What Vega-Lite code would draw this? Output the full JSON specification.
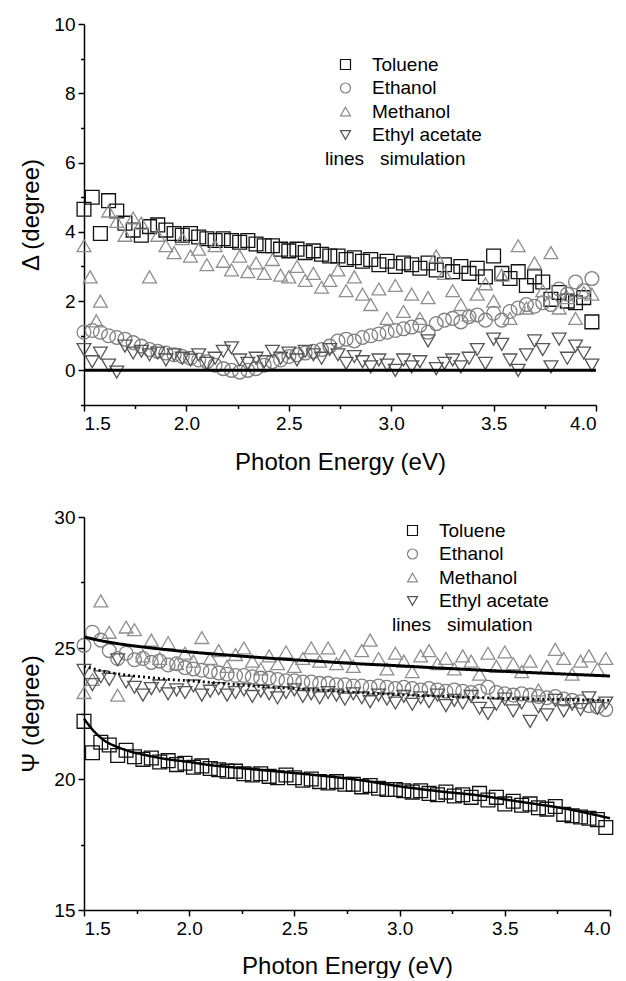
{
"$schema": "https://vega.github.io/schema/vega-lite/v6.json",
"background": "white",
"padding": {"left": 19, "top": 15, "right": 0, "bottom": 0},
"spacing": 34,
"config": {
  "view": {"stroke": null},
  "font": "Liberation Sans",
  "axis": {"domainColor": "#000", "domainWidth": 1.5, "tickColor": "#000", "tickWidth": 1.5, "tickSize": 6, "labelFontSize": 19, "labelColor": "#000", "labelFont": "Liberation Sans", "labelPadding": 3, "labelOverlap": false, "titleFont": "Liberation Sans", "titleFontSize": 24, "titleFontWeight": "normal", "titleColor": "#000", "grid": false},
  "legend": {"symbolSize": 100, "symbolStrokeWidth": 1.2, "labelFontSize": 19, "labelFont": "Liberation Sans", "labelColor": "#000", "titleFont": "Liberation Sans", "titleFontSize": 19, "titleFontWeight": "normal", "titleColor": "#000", "rowPadding": 3.5, "padding": 0, "titleLimit": 400, "labelLimit": 300, "titleOrient": "bottom", "titleAnchor": "start", "titlePadding": 5, "symbolOffset": 11, "labelOffset": 17}
},
"resolve": {"scale": {"x": "independent", "y": "independent", "shape": "independent", "color": "independent"}, "legend": {"shape": "independent", "color": "independent"}},
"datasets": {
"deltaSim": [{"x": 1.5, "y": 0}, {"x": 4.0, "y": 0}],
"psiSim": [
{"sim":"m","x":1.5,"y":25.42},{"sim":"m","x":1.6,"y":25.25},{"sim":"m","x":1.7,"y":25.12},{"sim":"m","x":1.8,"y":25.02},{"sim":"m","x":1.9,"y":24.93},{"sim":"m","x":2.0,"y":24.85},{"sim":"m","x":2.2,"y":24.72},{"sim":"m","x":2.4,"y":24.6},{"sim":"m","x":2.6,"y":24.5},{"sim":"m","x":2.8,"y":24.4},{"sim":"m","x":3.0,"y":24.32},{"sim":"m","x":3.2,"y":24.23},{"sim":"m","x":3.4,"y":24.15},{"sim":"m","x":3.6,"y":24.07},{"sim":"m","x":3.8,"y":24.0},{"sim":"m","x":4.0,"y":23.93},
{"sim":"e","x":1.5,"y":24.3},{"sim":"e","x":1.6,"y":24.1},{"sim":"e","x":1.7,"y":23.97},{"sim":"e","x":1.8,"y":23.88},{"sim":"e","x":1.9,"y":23.8},{"sim":"e","x":2.0,"y":23.75},{"sim":"e","x":2.2,"y":23.62},{"sim":"e","x":2.4,"y":23.5},{"sim":"e","x":2.6,"y":23.4},{"sim":"e","x":2.8,"y":23.3},{"sim":"e","x":3.0,"y":23.22},{"sim":"e","x":3.2,"y":23.16},{"sim":"e","x":3.4,"y":23.1},{"sim":"e","x":3.6,"y":23.06},{"sim":"e","x":3.8,"y":23.03},{"sim":"e","x":4.0,"y":23.0},
{"sim":"t","x":1.5,"y":22.3},{"sim":"t","x":1.55,"y":21.8},{"sim":"t","x":1.6,"y":21.45},{"sim":"t","x":1.65,"y":21.25},{"sim":"t","x":1.7,"y":21.1},{"sim":"t","x":1.8,"y":20.9},{"sim":"t","x":1.9,"y":20.75},{"sim":"t","x":2.0,"y":20.65},{"sim":"t","x":2.1,"y":20.53},{"sim":"t","x":2.2,"y":20.45},{"sim":"t","x":2.4,"y":20.3},{"sim":"t","x":2.6,"y":20.15},{"sim":"t","x":2.8,"y":19.97},{"sim":"t","x":3.0,"y":19.72},{"sim":"t","x":3.2,"y":19.52},{"sim":"t","x":3.4,"y":19.35},{"sim":"t","x":3.5,"y":19.22},{"sim":"t","x":3.6,"y":19.1},{"sim":"t","x":3.8,"y":18.85},{"sim":"t","x":4.0,"y":18.5}
],
"delta": [
{"s":"Toluene","x":1.50,"y":4.65},{"s":"Toluene","x":1.54,"y":5.0},{"s":"Toluene","x":1.58,"y":3.95},{"s":"Toluene","x":1.62,"y":4.9},{"s":"Toluene","x":1.66,"y":4.6},{"s":"Toluene","x":1.70,"y":4.25},{"s":"Toluene","x":1.74,"y":4.05},{"s":"Toluene","x":1.78,"y":3.9},{"s":"Toluene","x":1.82,"y":4.15},{"s":"Toluene","x":1.86,"y":4.2},{"s":"Toluene","x":1.90,"y":4.05},{"s":"Toluene","x":1.94,"y":3.95},{"s":"Toluene","x":1.98,"y":3.9},{"s":"Toluene","x":2.02,"y":3.95},{"s":"Toluene","x":2.06,"y":3.85},{"s":"Toluene","x":2.10,"y":3.8},{"s":"Toluene","x":2.14,"y":3.75},{"s":"Toluene","x":2.18,"y":3.8},{"s":"Toluene","x":2.22,"y":3.75},{"s":"Toluene","x":2.26,"y":3.7},{"s":"Toluene","x":2.30,"y":3.75},{"s":"Toluene","x":2.34,"y":3.65},{"s":"Toluene","x":2.38,"y":3.6},{"s":"Toluene","x":2.42,"y":3.6},{"s":"Toluene","x":2.46,"y":3.5},{"s":"Toluene","x":2.50,"y":3.45},{"s":"Toluene","x":2.54,"y":3.5},{"s":"Toluene","x":2.58,"y":3.4},{"s":"Toluene","x":2.62,"y":3.45},{"s":"Toluene","x":2.66,"y":3.35},{"s":"Toluene","x":2.70,"y":3.3},{"s":"Toluene","x":2.74,"y":3.3},{"s":"Toluene","x":2.78,"y":3.2},{"s":"Toluene","x":2.82,"y":3.25},{"s":"Toluene","x":2.86,"y":3.15},{"s":"Toluene","x":2.90,"y":3.2},{"s":"Toluene","x":2.94,"y":3.05},{"s":"Toluene","x":2.98,"y":3.15},{"s":"Toluene","x":3.02,"y":3.0},{"s":"Toluene","x":3.06,"y":3.1},{"s":"Toluene","x":3.10,"y":3.05},{"s":"Toluene","x":3.14,"y":2.95},{"s":"Toluene","x":3.18,"y":3.1},{"s":"Toluene","x":3.22,"y":2.9},{"s":"Toluene","x":3.26,"y":3.05},{"s":"Toluene","x":3.30,"y":2.85},{"s":"Toluene","x":3.34,"y":3.0},{"s":"Toluene","x":3.38,"y":2.8},{"s":"Toluene","x":3.42,"y":2.95},{"s":"Toluene","x":3.46,"y":2.7},{"s":"Toluene","x":3.50,"y":3.3},{"s":"Toluene","x":3.54,"y":2.8},{"s":"Toluene","x":3.58,"y":2.65},{"s":"Toluene","x":3.62,"y":2.85},{"s":"Toluene","x":3.66,"y":2.45},{"s":"Toluene","x":3.70,"y":2.7},{"s":"Toluene","x":3.74,"y":2.55},{"s":"Toluene","x":3.78,"y":2.05},{"s":"Toluene","x":3.82,"y":2.25},{"s":"Toluene","x":3.86,"y":2.0},{"s":"Toluene","x":3.90,"y":1.95},{"s":"Toluene","x":3.94,"y":2.1},{"s":"Toluene","x":3.98,"y":1.4},
{"s":"Ethanol","x":1.50,"y":1.1},{"s":"Ethanol","x":1.54,"y":1.15},{"s":"Ethanol","x":1.58,"y":1.1},{"s":"Ethanol","x":1.62,"y":1.0},{"s":"Ethanol","x":1.66,"y":0.95},{"s":"Ethanol","x":1.70,"y":0.9},{"s":"Ethanol","x":1.74,"y":0.8},{"s":"Ethanol","x":1.78,"y":0.7},{"s":"Ethanol","x":1.82,"y":0.6},{"s":"Ethanol","x":1.86,"y":0.55},{"s":"Ethanol","x":1.90,"y":0.5},{"s":"Ethanol","x":1.94,"y":0.45},{"s":"Ethanol","x":1.98,"y":0.4},{"s":"Ethanol","x":2.02,"y":0.35},{"s":"Ethanol","x":2.06,"y":0.3},{"s":"Ethanol","x":2.10,"y":0.25},{"s":"Ethanol","x":2.14,"y":0.15},{"s":"Ethanol","x":2.18,"y":0.05},{"s":"Ethanol","x":2.22,"y":0.0},{"s":"Ethanol","x":2.26,"y":-0.05},{"s":"Ethanol","x":2.30,"y":0.0},{"s":"Ethanol","x":2.34,"y":0.05},{"s":"Ethanol","x":2.38,"y":0.15},{"s":"Ethanol","x":2.42,"y":0.25},{"s":"Ethanol","x":2.46,"y":0.3},{"s":"Ethanol","x":2.50,"y":0.4},{"s":"Ethanol","x":2.54,"y":0.45},{"s":"Ethanol","x":2.58,"y":0.5},{"s":"Ethanol","x":2.62,"y":0.55},{"s":"Ethanol","x":2.66,"y":0.6},{"s":"Ethanol","x":2.70,"y":0.7},{"s":"Ethanol","x":2.74,"y":0.85},{"s":"Ethanol","x":2.78,"y":0.9},{"s":"Ethanol","x":2.82,"y":0.85},{"s":"Ethanol","x":2.86,"y":0.95},{"s":"Ethanol","x":2.90,"y":1.0},{"s":"Ethanol","x":2.94,"y":1.05},{"s":"Ethanol","x":2.98,"y":1.1},{"s":"Ethanol","x":3.02,"y":1.15},{"s":"Ethanol","x":3.06,"y":1.2},{"s":"Ethanol","x":3.10,"y":1.25},{"s":"Ethanol","x":3.14,"y":1.3},{"s":"Ethanol","x":3.18,"y":1.1},{"s":"Ethanol","x":3.22,"y":1.35},{"s":"Ethanol","x":3.26,"y":1.45},{"s":"Ethanol","x":3.30,"y":1.5},{"s":"Ethanol","x":3.34,"y":1.4},{"s":"Ethanol","x":3.38,"y":1.55},{"s":"Ethanol","x":3.42,"y":1.6},{"s":"Ethanol","x":3.46,"y":1.45},{"s":"Ethanol","x":3.50,"y":1.65},{"s":"Ethanol","x":3.54,"y":1.45},{"s":"Ethanol","x":3.58,"y":1.7},{"s":"Ethanol","x":3.62,"y":1.8},{"s":"Ethanol","x":3.66,"y":1.9},{"s":"Ethanol","x":3.70,"y":1.85},{"s":"Ethanol","x":3.74,"y":1.95},{"s":"Ethanol","x":3.78,"y":1.9},{"s":"Ethanol","x":3.82,"y":2.35},{"s":"Ethanol","x":3.86,"y":2.2},{"s":"Ethanol","x":3.90,"y":2.55},{"s":"Ethanol","x":3.94,"y":2.3},{"s":"Ethanol","x":3.98,"y":2.65},
{"s":"Methanol","x":1.50,"y":3.6},{"s":"Methanol","x":1.53,"y":2.7},{"s":"Methanol","x":1.56,"y":1.43},{"s":"Methanol","x":1.58,"y":2.0},{"s":"Methanol","x":1.62,"y":4.6},{"s":"Methanol","x":1.66,"y":4.3},{"s":"Methanol","x":1.70,"y":3.9},{"s":"Methanol","x":1.74,"y":4.4},{"s":"Methanol","x":1.78,"y":4.25},{"s":"Methanol","x":1.82,"y":2.7},{"s":"Methanol","x":1.86,"y":3.9},{"s":"Methanol","x":1.90,"y":3.6},{"s":"Methanol","x":1.94,"y":3.4},{"s":"Methanol","x":1.98,"y":3.8},{"s":"Methanol","x":2.02,"y":3.3},{"s":"Methanol","x":2.06,"y":3.5},{"s":"Methanol","x":2.10,"y":3.05},{"s":"Methanol","x":2.14,"y":3.6},{"s":"Methanol","x":2.18,"y":3.15},{"s":"Methanol","x":2.22,"y":2.9},{"s":"Methanol","x":2.26,"y":3.3},{"s":"Methanol","x":2.30,"y":2.85},{"s":"Methanol","x":2.34,"y":3.1},{"s":"Methanol","x":2.38,"y":2.8},{"s":"Methanol","x":2.42,"y":3.2},{"s":"Methanol","x":2.46,"y":2.75},{"s":"Methanol","x":2.50,"y":2.7},{"s":"Methanol","x":2.54,"y":3.0},{"s":"Methanol","x":2.58,"y":2.6},{"s":"Methanol","x":2.62,"y":2.8},{"s":"Methanol","x":2.66,"y":2.4},{"s":"Methanol","x":2.70,"y":2.6},{"s":"Methanol","x":2.74,"y":2.9},{"s":"Methanol","x":2.78,"y":2.3},{"s":"Methanol","x":2.82,"y":2.7},{"s":"Methanol","x":2.86,"y":2.2},{"s":"Methanol","x":2.90,"y":1.9},{"s":"Methanol","x":2.94,"y":2.35},{"s":"Methanol","x":2.98,"y":1.5},{"s":"Methanol","x":3.02,"y":2.45},{"s":"Methanol","x":3.06,"y":1.7},{"s":"Methanol","x":3.10,"y":2.2},{"s":"Methanol","x":3.14,"y":1.5},{"s":"Methanol","x":3.18,"y":2.1},{"s":"Methanol","x":3.22,"y":3.3},{"s":"Methanol","x":3.26,"y":2.8},{"s":"Methanol","x":3.30,"y":2.3},{"s":"Methanol","x":3.34,"y":1.9},{"s":"Methanol","x":3.38,"y":1.6},{"s":"Methanol","x":3.42,"y":2.2},{"s":"Methanol","x":3.46,"y":2.5},{"s":"Methanol","x":3.50,"y":2.0},{"s":"Methanol","x":3.54,"y":2.75},{"s":"Methanol","x":3.58,"y":1.5},{"s":"Methanol","x":3.62,"y":3.6},{"s":"Methanol","x":3.66,"y":1.8},{"s":"Methanol","x":3.70,"y":3.1},{"s":"Methanol","x":3.74,"y":2.3},{"s":"Methanol","x":3.78,"y":3.4},{"s":"Methanol","x":3.82,"y":1.8},{"s":"Methanol","x":3.86,"y":2.1},{"s":"Methanol","x":3.90,"y":1.5},{"s":"Methanol","x":3.94,"y":2.25},{"s":"Methanol","x":3.98,"y":2.2},
{"s":"Ethyl acetate","x":1.50,"y":0.6},{"s":"Ethyl acetate","x":1.54,"y":0.25},{"s":"Ethyl acetate","x":1.58,"y":0.5},{"s":"Ethyl acetate","x":1.62,"y":0.15},{"s":"Ethyl acetate","x":1.66,"y":-0.05},{"s":"Ethyl acetate","x":1.70,"y":0.7},{"s":"Ethyl acetate","x":1.74,"y":0.5},{"s":"Ethyl acetate","x":1.78,"y":0.55},{"s":"Ethyl acetate","x":1.82,"y":0.45},{"s":"Ethyl acetate","x":1.86,"y":0.5},{"s":"Ethyl acetate","x":1.90,"y":0.3},{"s":"Ethyl acetate","x":1.94,"y":0.45},{"s":"Ethyl acetate","x":1.98,"y":0.35},{"s":"Ethyl acetate","x":2.02,"y":0.3},{"s":"Ethyl acetate","x":2.06,"y":0.45},{"s":"Ethyl acetate","x":2.10,"y":0.2},{"s":"Ethyl acetate","x":2.14,"y":0.35},{"s":"Ethyl acetate","x":2.18,"y":0.55},{"s":"Ethyl acetate","x":2.22,"y":0.65},{"s":"Ethyl acetate","x":2.26,"y":0.3},{"s":"Ethyl acetate","x":2.30,"y":0.2},{"s":"Ethyl acetate","x":2.34,"y":0.35},{"s":"Ethyl acetate","x":2.38,"y":0.25},{"s":"Ethyl acetate","x":2.42,"y":0.55},{"s":"Ethyl acetate","x":2.46,"y":0.35},{"s":"Ethyl acetate","x":2.50,"y":0.5},{"s":"Ethyl acetate","x":2.54,"y":0.3},{"s":"Ethyl acetate","x":2.58,"y":0.55},{"s":"Ethyl acetate","x":2.62,"y":0.45},{"s":"Ethyl acetate","x":2.66,"y":0.35},{"s":"Ethyl acetate","x":2.70,"y":0.6},{"s":"Ethyl acetate","x":2.74,"y":0.45},{"s":"Ethyl acetate","x":2.78,"y":0.2},{"s":"Ethyl acetate","x":2.82,"y":0.4},{"s":"Ethyl acetate","x":2.86,"y":0.25},{"s":"Ethyl acetate","x":2.90,"y":0.1},{"s":"Ethyl acetate","x":2.94,"y":0.3},{"s":"Ethyl acetate","x":2.98,"y":0.15},{"s":"Ethyl acetate","x":3.02,"y":0.0},{"s":"Ethyl acetate","x":3.06,"y":0.3},{"s":"Ethyl acetate","x":3.10,"y":0.1},{"s":"Ethyl acetate","x":3.14,"y":0.25},{"s":"Ethyl acetate","x":3.18,"y":0.85},{"s":"Ethyl acetate","x":3.22,"y":0.05},{"s":"Ethyl acetate","x":3.26,"y":0.2},{"s":"Ethyl acetate","x":3.30,"y":0.3},{"s":"Ethyl acetate","x":3.34,"y":0.1},{"s":"Ethyl acetate","x":3.38,"y":0.35},{"s":"Ethyl acetate","x":3.42,"y":0.6},{"s":"Ethyl acetate","x":3.46,"y":0.2},{"s":"Ethyl acetate","x":3.50,"y":0.9},{"s":"Ethyl acetate","x":3.54,"y":0.75},{"s":"Ethyl acetate","x":3.58,"y":0.3},{"s":"Ethyl acetate","x":3.62,"y":0.0},{"s":"Ethyl acetate","x":3.66,"y":0.45},{"s":"Ethyl acetate","x":3.70,"y":0.85},{"s":"Ethyl acetate","x":3.74,"y":0.6},{"s":"Ethyl acetate","x":3.78,"y":0.1},{"s":"Ethyl acetate","x":3.82,"y":0.9},{"s":"Ethyl acetate","x":3.86,"y":0.35},{"s":"Ethyl acetate","x":3.90,"y":0.7},{"s":"Ethyl acetate","x":3.94,"y":0.5},{"s":"Ethyl acetate","x":3.98,"y":0.15}
],
"psi": [
{"s":"Toluene","x":1.50,"y":22.2},{"s":"Toluene","x":1.54,"y":21.0},{"s":"Toluene","x":1.58,"y":21.4},{"s":"Toluene","x":1.62,"y":21.3},{"s":"Toluene","x":1.66,"y":20.9},{"s":"Toluene","x":1.70,"y":21.1},{"s":"Toluene","x":1.74,"y":20.85},{"s":"Toluene","x":1.78,"y":20.75},{"s":"Toluene","x":1.82,"y":20.8},{"s":"Toluene","x":1.86,"y":20.65},{"s":"Toluene","x":1.90,"y":20.7},{"s":"Toluene","x":1.94,"y":20.55},{"s":"Toluene","x":1.98,"y":20.6},{"s":"Toluene","x":2.02,"y":20.45},{"s":"Toluene","x":2.06,"y":20.5},{"s":"Toluene","x":2.10,"y":20.4},{"s":"Toluene","x":2.14,"y":20.35},{"s":"Toluene","x":2.18,"y":20.3},{"s":"Toluene","x":2.22,"y":20.3},{"s":"Toluene","x":2.26,"y":20.2},{"s":"Toluene","x":2.30,"y":20.15},{"s":"Toluene","x":2.34,"y":20.2},{"s":"Toluene","x":2.38,"y":20.1},{"s":"Toluene","x":2.42,"y":20.05},{"s":"Toluene","x":2.46,"y":20.15},{"s":"Toluene","x":2.50,"y":20.05},{"s":"Toluene","x":2.54,"y":19.95},{"s":"Toluene","x":2.58,"y":20.0},{"s":"Toluene","x":2.62,"y":19.9},{"s":"Toluene","x":2.66,"y":19.85},{"s":"Toluene","x":2.70,"y":19.9},{"s":"Toluene","x":2.74,"y":19.8},{"s":"Toluene","x":2.78,"y":19.8},{"s":"Toluene","x":2.82,"y":19.7},{"s":"Toluene","x":2.86,"y":19.75},{"s":"Toluene","x":2.90,"y":19.65},{"s":"Toluene","x":2.94,"y":19.6},{"s":"Toluene","x":2.98,"y":19.6},{"s":"Toluene","x":3.02,"y":19.55},{"s":"Toluene","x":3.06,"y":19.5},{"s":"Toluene","x":3.10,"y":19.55},{"s":"Toluene","x":3.14,"y":19.45},{"s":"Toluene","x":3.18,"y":19.4},{"s":"Toluene","x":3.22,"y":19.5},{"s":"Toluene","x":3.26,"y":19.35},{"s":"Toluene","x":3.30,"y":19.4},{"s":"Toluene","x":3.34,"y":19.3},{"s":"Toluene","x":3.38,"y":19.45},{"s":"Toluene","x":3.42,"y":19.2},{"s":"Toluene","x":3.46,"y":19.3},{"s":"Toluene","x":3.50,"y":19.05},{"s":"Toluene","x":3.54,"y":19.15},{"s":"Toluene","x":3.58,"y":19.0},{"s":"Toluene","x":3.62,"y":19.05},{"s":"Toluene","x":3.66,"y":18.9},{"s":"Toluene","x":3.70,"y":18.85},{"s":"Toluene","x":3.74,"y":18.95},{"s":"Toluene","x":3.78,"y":18.65},{"s":"Toluene","x":3.82,"y":18.6},{"s":"Toluene","x":3.86,"y":18.55},{"s":"Toluene","x":3.90,"y":18.5},{"s":"Toluene","x":3.94,"y":18.45},{"s":"Toluene","x":3.98,"y":18.15},
{"s":"Ethanol","x":1.50,"y":25.1},{"s":"Ethanol","x":1.54,"y":25.6},{"s":"Ethanol","x":1.58,"y":25.3},{"s":"Ethanol","x":1.62,"y":24.9},{"s":"Ethanol","x":1.66,"y":24.6},{"s":"Ethanol","x":1.70,"y":24.8},{"s":"Ethanol","x":1.74,"y":24.55},{"s":"Ethanol","x":1.78,"y":24.6},{"s":"Ethanol","x":1.82,"y":24.45},{"s":"Ethanol","x":1.86,"y":24.5},{"s":"Ethanol","x":1.90,"y":24.35},{"s":"Ethanol","x":1.94,"y":24.4},{"s":"Ethanol","x":1.98,"y":24.25},{"s":"Ethanol","x":2.02,"y":24.2},{"s":"Ethanol","x":2.06,"y":24.15},{"s":"Ethanol","x":2.10,"y":24.1},{"s":"Ethanol","x":2.14,"y":24.05},{"s":"Ethanol","x":2.18,"y":24.0},{"s":"Ethanol","x":2.22,"y":23.95},{"s":"Ethanol","x":2.26,"y":23.95},{"s":"Ethanol","x":2.30,"y":23.9},{"s":"Ethanol","x":2.34,"y":23.85},{"s":"Ethanol","x":2.38,"y":23.85},{"s":"Ethanol","x":2.42,"y":23.8},{"s":"Ethanol","x":2.46,"y":23.75},{"s":"Ethanol","x":2.50,"y":23.75},{"s":"Ethanol","x":2.54,"y":23.7},{"s":"Ethanol","x":2.58,"y":23.7},{"s":"Ethanol","x":2.62,"y":23.65},{"s":"Ethanol","x":2.66,"y":23.65},{"s":"Ethanol","x":2.70,"y":23.6},{"s":"Ethanol","x":2.74,"y":23.6},{"s":"Ethanol","x":2.78,"y":23.55},{"s":"Ethanol","x":2.82,"y":23.55},{"s":"Ethanol","x":2.86,"y":23.5},{"s":"Ethanol","x":2.90,"y":23.55},{"s":"Ethanol","x":2.94,"y":23.5},{"s":"Ethanol","x":2.98,"y":23.45},{"s":"Ethanol","x":3.02,"y":23.5},{"s":"Ethanol","x":3.06,"y":23.45},{"s":"Ethanol","x":3.10,"y":23.4},{"s":"Ethanol","x":3.14,"y":23.45},{"s":"Ethanol","x":3.18,"y":23.4},{"s":"Ethanol","x":3.22,"y":23.35},{"s":"Ethanol","x":3.26,"y":23.4},{"s":"Ethanol","x":3.30,"y":23.35},{"s":"Ethanol","x":3.34,"y":23.3},{"s":"Ethanol","x":3.38,"y":23.35},{"s":"Ethanol","x":3.42,"y":23.5},{"s":"Ethanol","x":3.46,"y":23.3},{"s":"Ethanol","x":3.50,"y":23.25},{"s":"Ethanol","x":3.54,"y":23.2},{"s":"Ethanol","x":3.58,"y":23.25},{"s":"Ethanol","x":3.62,"y":23.2},{"s":"Ethanol","x":3.66,"y":23.15},{"s":"Ethanol","x":3.70,"y":23.1},{"s":"Ethanol","x":3.74,"y":23.15},{"s":"Ethanol","x":3.78,"y":23.05},{"s":"Ethanol","x":3.82,"y":23.0},{"s":"Ethanol","x":3.86,"y":22.95},{"s":"Ethanol","x":3.90,"y":22.8},{"s":"Ethanol","x":3.94,"y":22.75},{"s":"Ethanol","x":3.98,"y":22.65},
{"s":"Methanol","x":1.50,"y":23.3},{"s":"Methanol","x":1.54,"y":23.8},{"s":"Methanol","x":1.58,"y":26.8},{"s":"Methanol","x":1.62,"y":25.6},{"s":"Methanol","x":1.66,"y":23.2},{"s":"Methanol","x":1.70,"y":25.8},{"s":"Methanol","x":1.74,"y":25.7},{"s":"Methanol","x":1.78,"y":24.7},{"s":"Methanol","x":1.82,"y":25.3},{"s":"Methanol","x":1.86,"y":24.6},{"s":"Methanol","x":1.90,"y":25.2},{"s":"Methanol","x":1.94,"y":24.4},{"s":"Methanol","x":1.98,"y":24.8},{"s":"Methanol","x":2.02,"y":24.5},{"s":"Methanol","x":2.06,"y":25.4},{"s":"Methanol","x":2.10,"y":24.6},{"s":"Methanol","x":2.14,"y":24.9},{"s":"Methanol","x":2.18,"y":24.3},{"s":"Methanol","x":2.22,"y":24.75},{"s":"Methanol","x":2.26,"y":25.0},{"s":"Methanol","x":2.30,"y":24.5},{"s":"Methanol","x":2.34,"y":24.2},{"s":"Methanol","x":2.38,"y":24.7},{"s":"Methanol","x":2.42,"y":24.4},{"s":"Methanol","x":2.46,"y":24.85},{"s":"Methanol","x":2.50,"y":24.3},{"s":"Methanol","x":2.54,"y":24.6},{"s":"Methanol","x":2.58,"y":25.0},{"s":"Methanol","x":2.62,"y":24.5},{"s":"Methanol","x":2.66,"y":25.0},{"s":"Methanol","x":2.70,"y":24.4},{"s":"Methanol","x":2.74,"y":24.7},{"s":"Methanol","x":2.78,"y":24.3},{"s":"Methanol","x":2.82,"y":24.9},{"s":"Methanol","x":2.86,"y":25.3},{"s":"Methanol","x":2.90,"y":24.6},{"s":"Methanol","x":2.94,"y":24.2},{"s":"Methanol","x":2.98,"y":24.8},{"s":"Methanol","x":3.02,"y":24.5},{"s":"Methanol","x":3.06,"y":24.1},{"s":"Methanol","x":3.10,"y":24.7},{"s":"Methanol","x":3.14,"y":24.9},{"s":"Methanol","x":3.18,"y":24.4},{"s":"Methanol","x":3.22,"y":24.6},{"s":"Methanol","x":3.26,"y":24.2},{"s":"Methanol","x":3.30,"y":24.7},{"s":"Methanol","x":3.34,"y":24.5},{"s":"Methanol","x":3.38,"y":24.0},{"s":"Methanol","x":3.42,"y":24.8},{"s":"Methanol","x":3.46,"y":24.3},{"s":"Methanol","x":3.50,"y":24.85},{"s":"Methanol","x":3.54,"y":24.4},{"s":"Methanol","x":3.58,"y":24.1},{"s":"Methanol","x":3.62,"y":24.5},{"s":"Methanol","x":3.66,"y":23.4},{"s":"Methanol","x":3.70,"y":24.3},{"s":"Methanol","x":3.74,"y":24.95},{"s":"Methanol","x":3.78,"y":24.6},{"s":"Methanol","x":3.82,"y":24.0},{"s":"Methanol","x":3.86,"y":24.5},{"s":"Methanol","x":3.90,"y":24.7},{"s":"Methanol","x":3.94,"y":24.2},{"s":"Methanol","x":3.98,"y":24.6},
{"s":"Ethyl acetate","x":1.50,"y":24.15},{"s":"Ethyl acetate","x":1.54,"y":23.6},{"s":"Ethyl acetate","x":1.58,"y":23.9},{"s":"Ethyl acetate","x":1.62,"y":23.8},{"s":"Ethyl acetate","x":1.66,"y":24.55},{"s":"Ethyl acetate","x":1.70,"y":23.7},{"s":"Ethyl acetate","x":1.74,"y":23.5},{"s":"Ethyl acetate","x":1.78,"y":23.2},{"s":"Ethyl acetate","x":1.82,"y":23.45},{"s":"Ethyl acetate","x":1.86,"y":23.55},{"s":"Ethyl acetate","x":1.90,"y":23.25},{"s":"Ethyl acetate","x":1.94,"y":23.4},{"s":"Ethyl acetate","x":1.98,"y":23.3},{"s":"Ethyl acetate","x":2.02,"y":23.55},{"s":"Ethyl acetate","x":2.06,"y":23.2},{"s":"Ethyl acetate","x":2.10,"y":23.35},{"s":"Ethyl acetate","x":2.14,"y":23.45},{"s":"Ethyl acetate","x":2.18,"y":23.2},{"s":"Ethyl acetate","x":2.22,"y":23.3},{"s":"Ethyl acetate","x":2.26,"y":23.4},{"s":"Ethyl acetate","x":2.30,"y":23.15},{"s":"Ethyl acetate","x":2.34,"y":23.35},{"s":"Ethyl acetate","x":2.38,"y":23.25},{"s":"Ethyl acetate","x":2.42,"y":23.1},{"s":"Ethyl acetate","x":2.46,"y":23.3},{"s":"Ethyl acetate","x":2.50,"y":23.4},{"s":"Ethyl acetate","x":2.54,"y":23.15},{"s":"Ethyl acetate","x":2.58,"y":23.25},{"s":"Ethyl acetate","x":2.62,"y":23.1},{"s":"Ethyl acetate","x":2.66,"y":23.3},{"s":"Ethyl acetate","x":2.70,"y":23.2},{"s":"Ethyl acetate","x":2.74,"y":23.05},{"s":"Ethyl acetate","x":2.78,"y":23.25},{"s":"Ethyl acetate","x":2.82,"y":23.1},{"s":"Ethyl acetate","x":2.86,"y":22.95},{"s":"Ethyl acetate","x":2.90,"y":23.2},{"s":"Ethyl acetate","x":2.94,"y":23.05},{"s":"Ethyl acetate","x":2.98,"y":22.9},{"s":"Ethyl acetate","x":3.02,"y":23.15},{"s":"Ethyl acetate","x":3.06,"y":22.85},{"s":"Ethyl acetate","x":3.10,"y":23.1},{"s":"Ethyl acetate","x":3.14,"y":22.95},{"s":"Ethyl acetate","x":3.18,"y":23.2},{"s":"Ethyl acetate","x":3.22,"y":22.8},{"s":"Ethyl acetate","x":3.26,"y":23.0},{"s":"Ethyl acetate","x":3.30,"y":22.9},{"s":"Ethyl acetate","x":3.34,"y":23.15},{"s":"Ethyl acetate","x":3.38,"y":22.7},{"s":"Ethyl acetate","x":3.42,"y":22.5},{"s":"Ethyl acetate","x":3.46,"y":22.85},{"s":"Ethyl acetate","x":3.50,"y":23.05},{"s":"Ethyl acetate","x":3.54,"y":22.6},{"s":"Ethyl acetate","x":3.58,"y":22.9},{"s":"Ethyl acetate","x":3.62,"y":22.2},{"s":"Ethyl acetate","x":3.66,"y":22.75},{"s":"Ethyl acetate","x":3.70,"y":22.45},{"s":"Ethyl acetate","x":3.74,"y":23.0},{"s":"Ethyl acetate","x":3.78,"y":22.6},{"s":"Ethyl acetate","x":3.82,"y":22.85},{"s":"Ethyl acetate","x":3.86,"y":22.65},{"s":"Ethyl acetate","x":3.90,"y":23.1},{"s":"Ethyl acetate","x":3.94,"y":22.7},{"s":"Ethyl acetate","x":3.98,"y":22.9}
]
},
"vconcat": [
{
  "width": 512, "height": 381,
  "resolve": {"axis": {"y": "independent"}},
  "layer": [
    {
      "data": {"name": "delta"},
      "mark": {"type": "point", "filled": false, "size": 190, "strokeWidth": 1.3, "opacity": 1},
      "encoding": {
        "x": {"field": "x", "type": "quantitative", "scale": {"domain": [1.5, 4.0], "nice": false, "zero": false},
              "axis": {"title": "Photon Energy (eV)", "labelOverlap": false, "values": [1.5,1.75,2,2.25,2.5,2.75,3,3.25,3.5,3.75,4], "labelExpr": "(datum.value*4)%2==0 ? format(datum.value,'.1f') : ''", "tickSize": {"condition": {"test": "(datum.value*4)%2==0", "value": 6}, "value": 3.5}, "titlePadding": 17}},
        "y": {"field": "y", "type": "quantitative", "scale": {"domain": [-1, 10], "nice": false, "zero": false},
              "axis": {"orient": "left", "title": "Δ (degree)", "labelOverlap": false, "format": "d", "values": [0,2,4,6,8,10], "titlePadding": 10}},
        "shape": {"field": "s", "type": "nominal", "scale": {"domain": ["Toluene","Ethanol","Methanol","Ethyl acetate"], "range": ["square","circle","triangle-up","triangle-down"]},
                  "legend": {"orient": "none", "legendX": 241, "legendY": 31, "title": "lines\u00a0\u00a0\u00a0simulation"}},
        "color": {"field": "s", "type": "nominal", "scale": {"domain": ["Toluene","Ethanol","Methanol","Ethyl acetate"], "range": ["#111111","#7f7f7f","#8e8e8e","#555555"]},
                  "legend": {"orient": "none", "legendX": 241, "legendY": 31, "title": "lines\u00a0\u00a0\u00a0simulation"}}
      }
    },
    {
      "data": {"name": "deltaSim"},
      "mark": {"type": "line", "color": "#000", "strokeWidth": 3},
      "encoding": {
        "x": {"field": "x", "type": "quantitative"},
        "y": {"field": "y", "type": "quantitative", "axis": {"orient": "left", "values": [-1,1,3,5,7,9], "labels": false, "title": null, "domain": false, "tickSize": 3.5}}
      }
    }
  ]
},
{
  "width": 526, "height": 393,
  "layer": [
    {
      "data": {"name": "psi"},
      "mark": {"type": "point", "filled": false, "size": 190, "strokeWidth": 1.3, "opacity": 1},
      "encoding": {
        "x": {"field": "x", "type": "quantitative", "scale": {"domain": [1.5, 4.0], "nice": false, "zero": false},
              "axis": {"title": "Photon Energy (eV)", "labelOverlap": false, "values": [1.5,1.75,2,2.25,2.5,2.75,3,3.25,3.5,3.75,4], "labelExpr": "(datum.value*4)%2==0 ? format(datum.value,'.1f') : ''", "tickSize": {"condition": {"test": "(datum.value*4)%2==0", "value": 6}, "value": 3.5}, "titlePadding": 16}},
        "y": {"field": "y", "type": "quantitative", "scale": {"domain": [15, 30], "nice": false, "zero": false},
              "axis": {"title": "Ψ (degree)", "labelOverlap": false, "values": [15,17.5,20,22.5,25,27.5,30], "labelExpr": "datum.value%5==0 ? format(datum.value,'d') : ''", "tickSize": {"condition": {"test": "datum.value%5==0", "value": 6}, "value": 3.5}, "titlePadding": 10}},
        "shape": {"field": "s", "type": "nominal", "scale": {"domain": ["Toluene","Ethanol","Methanol","Ethyl acetate"], "range": ["square","circle","triangle-up","triangle-down"]},
                  "legend": {"orient": "none", "legendX": 308, "legendY": 4, "title": "lines\u00a0\u00a0\u00a0simulation"}},
        "color": {"field": "s", "type": "nominal", "scale": {"domain": ["Toluene","Ethanol","Methanol","Ethyl acetate"], "range": ["#111111","#7f7f7f","#8e8e8e","#555555"]},
                  "legend": {"orient": "none", "legendX": 308, "legendY": 4, "title": "lines\u00a0\u00a0\u00a0simulation"}}
      }
    },
    {
      "data": {"name": "psiSim"},
      "mark": {"type": "line", "color": "#000", "interpolate": "monotone"},
      "encoding": {
        "x": {"field": "x", "type": "quantitative"},
        "y": {"field": "y", "type": "quantitative"},
        "detail": {"field": "sim"},
        "strokeDash": {"field": "sim", "type": "nominal", "scale": {"domain": ["m","e","t"], "range": [[1,0],[2,3],[1,0]]}, "legend": null},
        "strokeWidth": {"field": "sim", "type": "nominal", "scale": {"domain": ["m","e","t"], "range": [3,2.5,3]}, "legend": null}
      }
    }
  ]
}
]
}
